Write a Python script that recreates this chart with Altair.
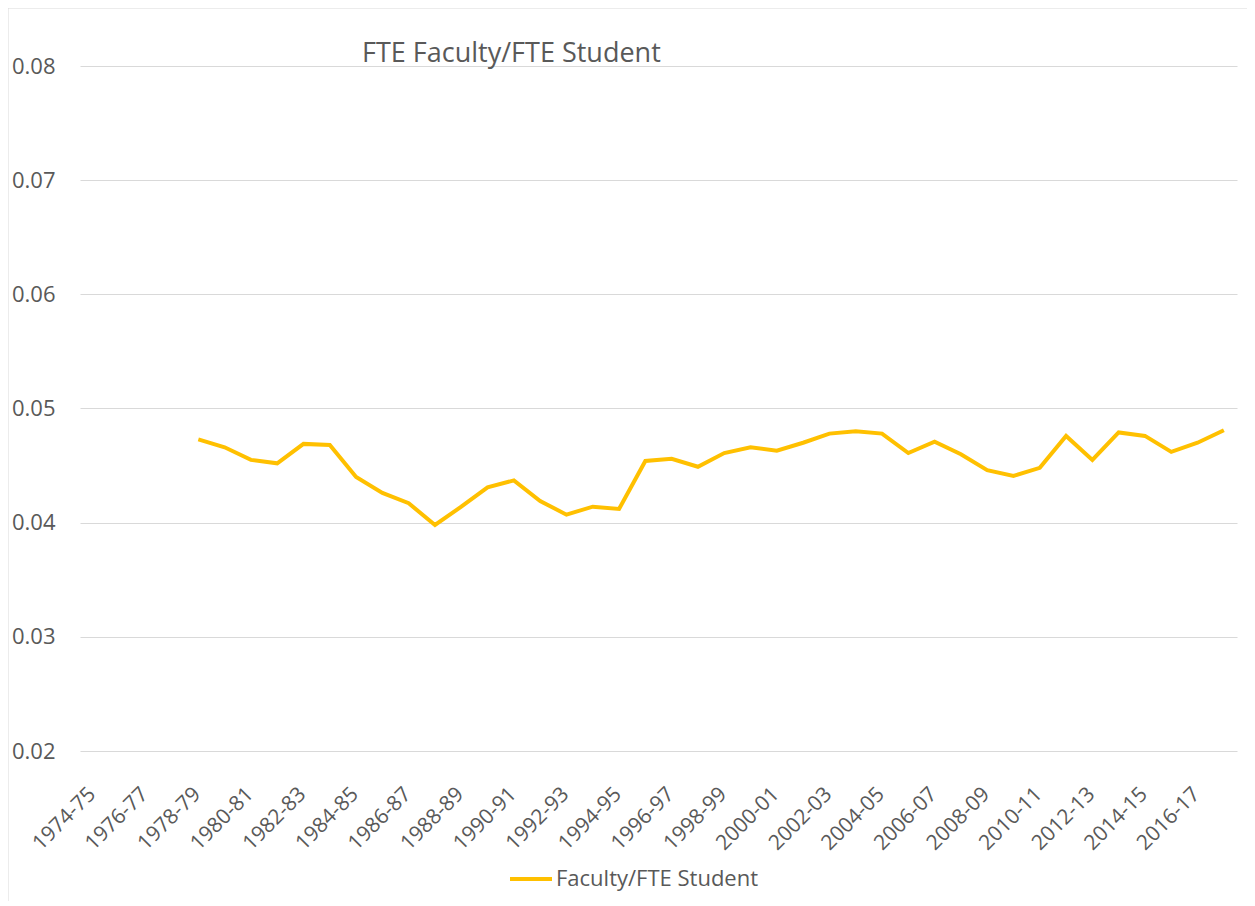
import altair as alt
import pandas as pd

title_text = "FTE Faculty/FTE Student"
years = [
    "1974-75", "1975-76", "1976-77", "1977-78", "1978-79", "1979-80", "1980-81", "1981-82",
    "1982-83", "1983-84", "1984-85", "1985-86", "1986-87", "1987-88", "1988-89", "1989-90",
    "1990-91", "1991-92", "1992-93", "1993-94", "1994-95", "1995-96", "1996-97", "1997-98",
    "1998-99", "1999-00", "2000-01", "2001-02", "2002-03", "2003-04", "2004-05", "2005-06",
    "2006-07", "2007-08", "2008-09", "2009-10", "2010-11", "2011-12", "2012-13", "2013-14",
    "2014-15", "2015-16", "2016-17", "2017-18",
]
ratio = [
    None, None, None, None, 0.0473, 0.0466, 0.0455, 0.0452,
    0.0469, 0.0468, 0.0440, 0.0426, 0.0417, 0.0398, 0.0414, 0.0431,
    0.0437, 0.0419, 0.0407, 0.0414, 0.0412, 0.0454, 0.0456, 0.0449,
    0.0461, 0.0466, 0.0463, 0.0470, 0.0478, 0.0480, 0.0478, 0.0461,
    0.0471, 0.0460, 0.0446, 0.0441, 0.0448, 0.0476, 0.0455, 0.0479,
    0.0476, 0.0462, 0.0470, 0.0481,
]
series_name = "Faculty/FTE Student"
y_ticks = [0.02, 0.03, 0.04, 0.05, 0.06, 0.07, 0.08]
x_labels = years[::2]

df = pd.DataFrame({"year": years, "ratio": ratio, "series": series_name})

grey = "#595959"
font = "Open Sans"

line = alt.Chart(df).mark_line(strokeWidth=4).encode(
    x=alt.X(
        "year:N",
        sort=years,
        scale=alt.Scale(domain=years, type="point", padding=0.5),
        axis=alt.Axis(
            title=None,
            values=x_labels,
            labelAngle=-45,
            labelFontSize=21,
            labelColor=grey,
            labelFont=font,
            labelPadding=32,
            labelOffset=-9,
            domain=False,
            ticks=False,
            grid=False,
        ),
    ),
    y=alt.Y(
        "ratio:Q",
        scale=alt.Scale(domain=[0.02, 0.08], nice=False, zero=False),
        axis=alt.Axis(
            title=None,
            values=y_ticks,
            format=".2f",
            labelFontSize=22,
            labelColor=grey,
            labelFont=font,
            labelPadding=25,
            domain=False,
            ticks=False,
            grid=True,
            gridColor="#d9d9d9",
            gridWidth=1,
        ),
    ),
    color=alt.Color(
        "series:N",
        scale=alt.Scale(domain=[series_name], range=["#FFC000"]),
        legend=alt.Legend(
            title=None,
            orient="none",
            legendX=428,
            legendY=790,
            symbolType="stroke",
            symbolSize=1764,
            symbolStrokeWidth=4,
            labelFontSize=22,
            labelFont=font,
            labelColor=grey,
            labelOffset=2,
            labelLimit=500,
        ),
    ),
)

title = alt.Chart(pd.DataFrame({"t": [title_text]})).mark_text(
    align="left", baseline="alphabetic", fontSize=27, font=font, color=grey
).encode(text="t:N", x=alt.value(282), y=alt.value(-4))

border = alt.Chart(pd.DataFrame({"b": [0]})).mark_rect(
    filled=False, stroke="#d9d9d9", strokeWidth=1
).encode(
    x=alt.value(-72), x2=alt.value(1400), y=alt.value(-58), y2=alt.value(1100)
)

chart = alt.layer(border, line, title).properties(
    width=1157,
    height=685,
    background="white",
    autosize=alt.AutoSizeParams(type="none"),
    padding={"left": 72, "top": 58, "right": 10, "bottom": 150},
).configure_view(stroke=None)

chart.save("out.html", embed_options={"renderer": "svg", "actions": False})
